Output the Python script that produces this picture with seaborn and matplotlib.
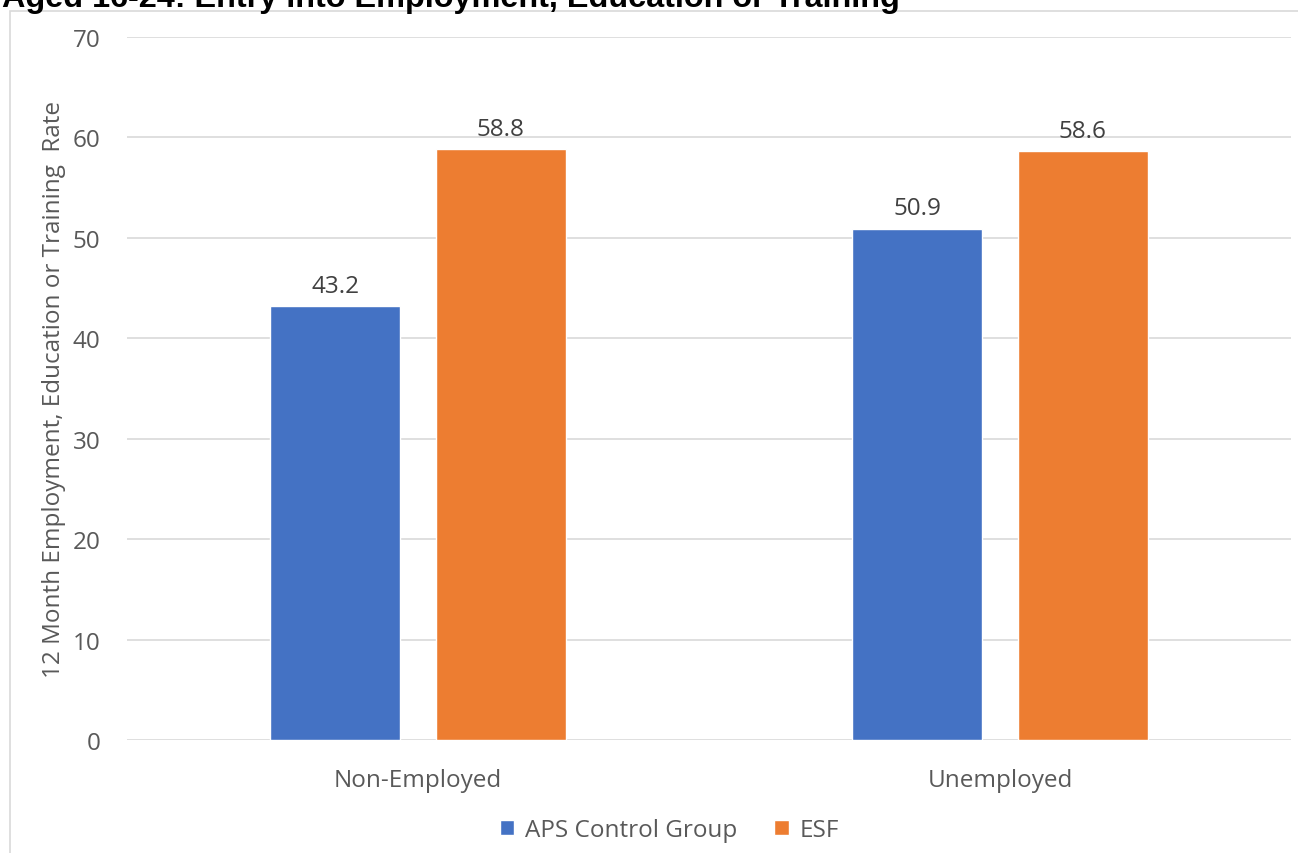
import matplotlib
matplotlib.use("Agg")
import matplotlib.pyplot as plt
import seaborn as sns
import pandas as pd
from matplotlib.patches import Rectangle

categories = ["Non-Employed", "Unemployed"]
series = ["APS Control Group", "ESF"]
aps_values = [43.2, 50.9]
esf_values = [58.8, 58.6]
yticks = [0, 10, 20, 30, 40, 50, 60, 70]
colors = ["#4472C4", "#ED7D31"]

df = pd.DataFrame({
    "category": categories * 2,
    "series": [series[0]] * 2 + [series[1]] * 2,
    "value": aps_values + esf_values,
})

sns.set_theme(style="white")
plt.rcParams["font.family"] = ["Open Sans", "DejaVu Sans"]

W, H = 1298, 854
fig = plt.figure(figsize=(W / 100, H / 100), dpi=100)
ax = fig.add_axes([127 / W, 113 / H, (1291 - 127) / W, (741 - 38) / H])

sns.barplot(data=df, x="category", y="value", hue="series", palette=colors,
            width=0.57, gap=0.217, ax=ax, saturation=1, legend=True)

FS = 17.5
ax.set_ylim(0, 70)
ax.set_xlim(-0.5, 1.5)
ax.set_yticks(yticks)
ax.yaxis.grid(True, color="#D9D9D9", linewidth=1.2)
ax.set_axisbelow(True)
for s in ax.spines.values():
    s.set_visible(False)
ax.tick_params(axis="both", length=0, labelsize=FS, colors="#595959")
ax.tick_params(axis="y", pad=19)
ax.tick_params(axis="x", pad=20)
ax.set_xlabel("")
ax.set_ylabel("12 Month Employment, Education or Training  Rate", fontsize=FS,
              color="#595959", labelpad=5)

for cont in ax.containers:
    ax.bar_label(cont, fmt="%.1f", padding=6, fontsize=FS, color="#404040")

leg = ax.legend(loc="upper center", bbox_to_anchor=(0.466, -0.08), ncol=2,
                frameon=False, fontsize=FS, handlelength=0.6, handleheight=0.6,
                handletextpad=0.45, columnspacing=1.5)
for t in leg.get_texts():
    t.set_color("#595959")

fig.patches.append(Rectangle((10 / W, -0.1), 1.2, (H - 12) / H + 0.1,
                             transform=fig.transFigure, fill=False,
                             edgecolor="#D9D9D9", linewidth=1.2))

fig.text(2 / W, (H - 7) / H, "Aged 16-24: Entry into Employment, Education or Training",
         fontsize=23.3, fontweight="bold", family=["Liberation Sans", "DejaVu Sans"],
         color="black", va="baseline", ha="left")

fig.savefig("out.png", dpi=100, facecolor="white")
